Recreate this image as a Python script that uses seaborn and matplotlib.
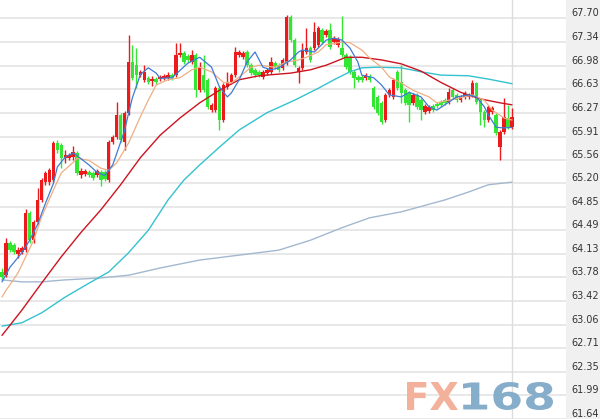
import matplotlib
matplotlib.use("Agg")
import matplotlib.pyplot as plt
import seaborn as sns
import pandas as pd
import numpy as np
from matplotlib.textpath import TextPath
from matplotlib.patches import PathPatch
from matplotlib.font_manager import FontProperties
from matplotlib.transforms import Affine2D

# daily candles (oldest -> newest)
opens = [63.86, 63.81, 64.30, 64.27, 64.13, 64.16, 64.19, 64.75, 64.34, 64.62,
         64.95, 65.22, 65.22, 65.25, 65.81, 65.78, 65.59, 65.59, 65.60, 65.66,
         65.33, 65.34, 65.37, 65.36, 65.33, 65.37, 65.37, 65.25, 65.83, 65.90,
         66.24, 65.83, 66.27, 67.04, 66.99, 66.84, 66.77, 66.80, 66.75, 66.78,
         66.78, 66.80, 66.80, 66.84, 66.84, 67.14, 67.17, 67.13, 67.04, 67.14,
         66.61, 66.84, 66.77, 66.31, 66.31, 66.64, 66.16, 66.66, 66.73, 66.84,
         67.14, 67.11, 67.19, 66.99, 66.92, 66.89, 66.81, 66.87, 66.89, 67.02,
         66.99, 66.95, 67.02, 67.72, 67.37, 66.89, 66.95, 67.19, 67.25, 67.25,
         67.30, 67.52, 67.45, 67.52, 67.34, 67.30, 67.25, 67.14, 67.11, 66.89,
         66.81, 66.81, 66.80, 66.83, 66.64, 66.51, 66.42, 66.16, 66.54, 66.51,
         66.89, 66.73, 66.61, 66.57, 66.42, 66.54, 66.46, 66.28, 66.30, 66.37,
         66.40, 66.43, 66.46, 66.43, 66.61, 66.54, 66.46, 66.51, 66.51, 66.54,
         66.72, 66.46, 66.28, 66.16, 66.28, 66.24, 65.75, 65.98, 66.19, 66.05]
highs = [63.92, 64.37, 64.33, 64.30, 64.24, 64.25, 64.81, 64.78, 64.65, 65.13,
         65.28, 65.39, 65.43, 65.84, 65.86, 65.81, 65.71, 65.66, 65.77, 65.69,
         65.43, 65.42, 65.40, 65.39, 65.42, 65.40, 65.40, 65.86, 65.93, 66.43,
         66.27, 66.30, 67.45, 67.30, 67.25, 66.92, 66.99, 66.83, 66.83, 66.81,
         66.84, 66.86, 66.89, 66.87, 67.33, 67.33, 67.21, 67.16, 67.22, 67.17,
         67.04, 67.14, 66.80, 66.42, 66.68, 66.68, 66.72, 66.89, 66.87, 67.26,
         67.22, 67.21, 67.22, 67.02, 66.95, 66.92, 66.92, 66.95, 67.11, 67.05,
         67.02, 67.10, 67.75, 67.75, 67.40, 66.98, 67.33, 67.55, 67.28, 67.64,
         67.58, 67.55, 67.54, 67.63, 67.43, 67.42, 67.73, 67.17, 67.14, 66.92,
         66.84, 66.84, 66.87, 66.86, 66.68, 66.54, 66.45, 66.57, 66.64, 66.80,
         66.92, 66.99, 66.64, 66.60, 66.57, 66.57, 66.49, 66.40, 66.39, 66.40,
         66.43, 66.46, 66.49, 66.64, 66.64, 66.57, 66.54, 66.60, 66.57, 66.77,
         66.73, 66.49, 66.31, 66.39, 66.37, 66.27, 66.01, 66.49, 66.39, 66.34]
lows = [63.74, 63.78, 64.16, 64.13, 64.07, 64.13, 64.16, 64.30, 64.30, 64.59,
        64.92, 65.18, 65.18, 65.22, 65.66, 65.43, 65.51, 65.55, 65.55, 65.33,
        65.28, 65.31, 65.30, 65.25, 65.30, 65.16, 65.24, 65.22, 65.80, 65.87,
        65.83, 65.71, 66.24, 66.77, 66.64, 66.81, 66.73, 66.71, 66.68, 66.71,
        66.75, 66.77, 66.77, 66.77, 66.81, 67.11, 67.01, 67.04, 67.01, 66.51,
        66.58, 66.58, 66.33, 66.28, 66.28, 66.01, 66.13, 66.63, 66.71, 66.81,
        67.11, 67.08, 66.96, 66.84, 66.81, 66.81, 66.78, 66.84, 66.86, 66.93,
        66.89, 66.92, 66.99, 67.34, 66.96, 66.72, 66.92, 67.16, 67.04, 67.22,
        67.26, 67.31, 67.42, 67.24, 67.31, 67.26, 67.11, 66.93, 66.86, 66.64,
        66.73, 66.73, 66.77, 66.73, 66.33, 66.24, 66.10, 66.13, 66.51, 66.48,
        66.61, 66.42, 66.39, 66.13, 66.39, 66.33, 66.16, 66.25, 66.27, 66.28,
        66.34, 66.36, 66.39, 66.40, 66.48, 66.43, 66.43, 66.48, 66.48, 66.51,
        66.40, 66.08, 66.05, 66.13, 66.25, 65.93, 65.55, 65.95, 66.02, 66.02]
closes = [63.78, 64.30, 64.19, 64.16, 64.19, 64.22, 64.75, 64.34, 64.62, 64.95,
          65.25, 65.36, 65.40, 65.81, 65.71, 65.59, 65.63, 65.63, 65.68, 65.36,
          65.39, 65.39, 65.33, 65.28, 65.39, 65.25, 65.27, 65.83, 65.90, 66.24,
          65.86, 66.27, 67.04, 66.80, 66.84, 66.89, 66.89, 66.73, 66.78, 66.73,
          66.81, 66.83, 66.84, 66.80, 67.14, 67.17, 67.04, 67.07, 67.14, 66.61,
          66.95, 66.61, 66.36, 66.39, 66.64, 66.16, 66.69, 66.73, 66.84, 67.19,
          67.19, 67.17, 66.99, 66.87, 66.84, 66.84, 66.89, 66.92, 67.04, 66.96,
          66.92, 67.07, 67.72, 67.37, 66.99, 66.95, 67.22, 67.25, 67.07, 67.49,
          67.55, 67.34, 67.51, 67.26, 67.40, 67.39, 67.14, 66.96, 66.89, 66.80,
          66.77, 66.77, 66.84, 66.77, 66.36, 66.27, 66.13, 66.54, 66.61, 66.77,
          66.64, 66.57, 66.42, 66.39, 66.54, 66.36, 66.31, 66.37, 66.36, 66.31,
          66.37, 66.39, 66.42, 66.58, 66.51, 66.46, 66.51, 66.57, 66.54, 66.72,
          66.43, 66.28, 66.16, 66.36, 66.34, 65.96, 65.98, 66.21, 66.05, 66.21]

# moving averages at selected candle positions
ma5_x = [0, 2, 5, 7, 9, 11, 13, 14, 16, 18, 19, 22, 24, 26, 28, 29, 31, 32, 33, 35,
         37, 39, 40, 43, 47, 50, 53, 55, 57, 58, 60, 62, 64, 66, 68, 70, 73, 75, 76, 79,
         80, 82, 84, 86, 88, 90, 91, 94, 96, 98, 101, 103, 106, 108, 110, 113, 115, 118,
         120, 122, 123, 125, 127, 129]
ma5_y = [63.71, 63.93, 64.15, 64.34, 64.58, 64.90, 65.20, 65.45, 65.60, 65.66, 65.62,
         65.48, 65.37, 65.32, 65.48, 65.65, 66.00, 66.26, 66.50, 66.85, 66.95, 66.87,
         66.79, 66.80, 67.02, 67.11, 66.96, 66.66, 66.51, 66.57, 66.77, 67.04, 67.19,
         66.96, 66.92, 66.95, 67.07, 67.19, 67.22, 67.19, 67.25, 67.37, 67.40, 67.37,
         67.25, 67.04, 66.84, 66.80, 66.69, 66.54, 66.51, 66.58, 66.51, 66.36, 66.31,
         66.43, 66.51, 66.54, 66.51, 66.36, 66.24, 66.05, 66.04, 66.05]
ma10_x = [0, 1, 4, 6, 8, 10, 13, 15, 18, 19, 22, 25, 27, 29, 32, 35, 37, 39, 42, 45,
          48, 50, 53, 56, 58, 60, 63, 65, 69, 72, 75, 77, 80, 82, 86, 88, 91, 93, 96, 98,
          101, 104, 108, 110, 113, 117, 119, 122, 124, 127, 129]
ma10_y = [63.48, 63.58, 63.84, 64.09, 64.34, 64.69, 65.10, 65.36, 65.52, 65.58, 65.55,
          65.43, 65.40, 65.51, 65.81, 66.21, 66.46, 66.69, 66.77, 66.80, 66.92, 66.96,
          66.89, 66.73, 66.72, 66.81, 66.96, 66.99, 66.96, 67.04, 67.07, 67.11, 67.19,
          67.30, 67.34, 67.33, 67.22, 67.10, 66.96, 66.81, 66.72, 66.61, 66.51, 66.42,
          66.46, 66.51, 66.54, 66.46, 66.31, 66.19, 66.16]
ma20_x = [0, 5, 10, 15, 20, 25, 30, 35, 40, 45, 50, 55, 60, 65, 73, 78, 82, 87, 91,
          96, 101, 106, 111, 116, 121, 126, 129]
ma20_y = [62.90, 63.28, 63.69, 64.09, 64.46, 64.80, 65.18, 65.59, 65.93, 66.19, 66.42,
          66.61, 66.77, 66.83, 66.87, 66.92, 66.99, 67.11, 67.11, 67.07, 67.01, 66.90,
          66.73, 66.58, 66.48, 66.42, 66.39]
ma60_x = [0, 5, 10, 16, 22, 27, 32, 37, 42, 46, 50, 55, 60, 67, 74, 80, 84, 88, 91,
          95, 101, 106, 111, 118, 123, 129]
ma60_y = [63.04, 63.09, 63.24, 63.48, 63.69, 63.86, 64.15, 64.49, 64.95, 65.25, 65.48,
          65.75, 66.01, 66.27, 66.46, 66.64, 66.77, 66.89, 66.95, 66.96, 66.95, 66.89,
          66.84, 66.83, 66.78, 66.71]
ma120_x = [0, 5, 10, 16, 25, 32, 40, 50, 58, 70, 78, 86, 93, 101, 112, 118, 123, 129]
ma120_y = [63.74, 63.71, 63.71, 63.74, 63.77, 63.81, 63.92, 64.04, 64.10, 64.19, 64.34,
           64.53, 64.68, 64.77, 64.95, 65.07, 65.18, 65.22]

y_ticks = [67.70, 67.34, 66.98, 66.63, 66.27, 65.91, 65.56, 65.20, 64.85,
           64.49, 64.13, 63.78, 63.42, 63.06, 62.71, 62.35, 61.99, 61.64]

sns.set_theme(style="white")
plt.rcParams['font.family'] = ['DejaVu Sans']

fig = plt.figure(figsize=(6, 4.19), dpi=100, facecolor='#f0f0f0')
ax = fig.add_axes([0, 0, 566 / 600, 1])
ax.set_facecolor('white')

o = np.array(opens)
h = np.array(highs)
l = np.array(lows)
c = np.array(closes)
x = np.arange(len(o))
up = c >= o
colors = np.where(up, '#ec1a1a', '#33e633')

body_low = np.minimum(o, c)
body_h = np.maximum(np.abs(c - o), 0.025)

ax.vlines(x, l, h, colors=colors, linewidth=1, zorder=2)
ax.bar(x, body_h, bottom=body_low, width=0.88, color=colors, linewidth=0, zorder=3)

ma_lines = [
    (ma120_x, ma120_y, '#a3b8cf', 1.0),
    (ma60_x, ma60_y, '#35c2cf', 1.0),
    (ma20_x, ma20_y, '#cc1420', 1.0),
    (ma10_x, ma10_y, '#efae84', 0.9),
    (ma5_x, ma5_y, '#3d7bd6', 0.9),
]
for mx, my, col, lw in ma_lines:
    df = pd.DataFrame({'i': mx, 'v': my})
    sns.lineplot(data=df, x='i', y='v', color=col, linewidth=lw, ax=ax, zorder=4)

ax.axvline(len(o) - 1, color='#dcdcdc', linewidth=1, zorder=1)

ax.set_xlim(-0.506, 142.66)
ax.set_ylim(61.634, 67.977)
ax.set_xticks([])
ax.yaxis.tick_right()
ax.set_yticks(y_ticks, labels=[f'{v:.2f}' for v in y_ticks], va='bottom')
ax.tick_params(axis='y', length=0, pad=4, labelsize=7, labelcolor='#333333')
ax.grid(axis='y', color='#e8e8e8', linewidth=1.4)
ax.grid(axis='x', visible=False)
ax.set_xlabel('')
ax.set_ylabel('')
sns.despine(ax=ax, left=True, bottom=True, right=True, top=True)

# watermark: wide heavy logo, drawn as outlines stretched to the logo box (pixels)
fp = FontProperties(family='DejaVu Sans', weight='bold')
for word, left, right, col in [('FX', 407, 458, '#f3b09a'), ('168', 463, 553, '#86adca')]:
    tp = TextPath((0, 0), word, size=40, prop=fp)
    ext = tp.get_extents()
    tr = (Affine2D().translate(-ext.x0, -ext.y0)
          .scale((right - left) / ext.width, 28 / ext.height)
          .translate(left, 9))
    fig.add_artist(PathPatch(tr.transform_path(tp), facecolor=col, edgecolor='none',
                             transform=None, zorder=10))

fig.savefig('out.png', dpi=100, facecolor=fig.get_facecolor())
